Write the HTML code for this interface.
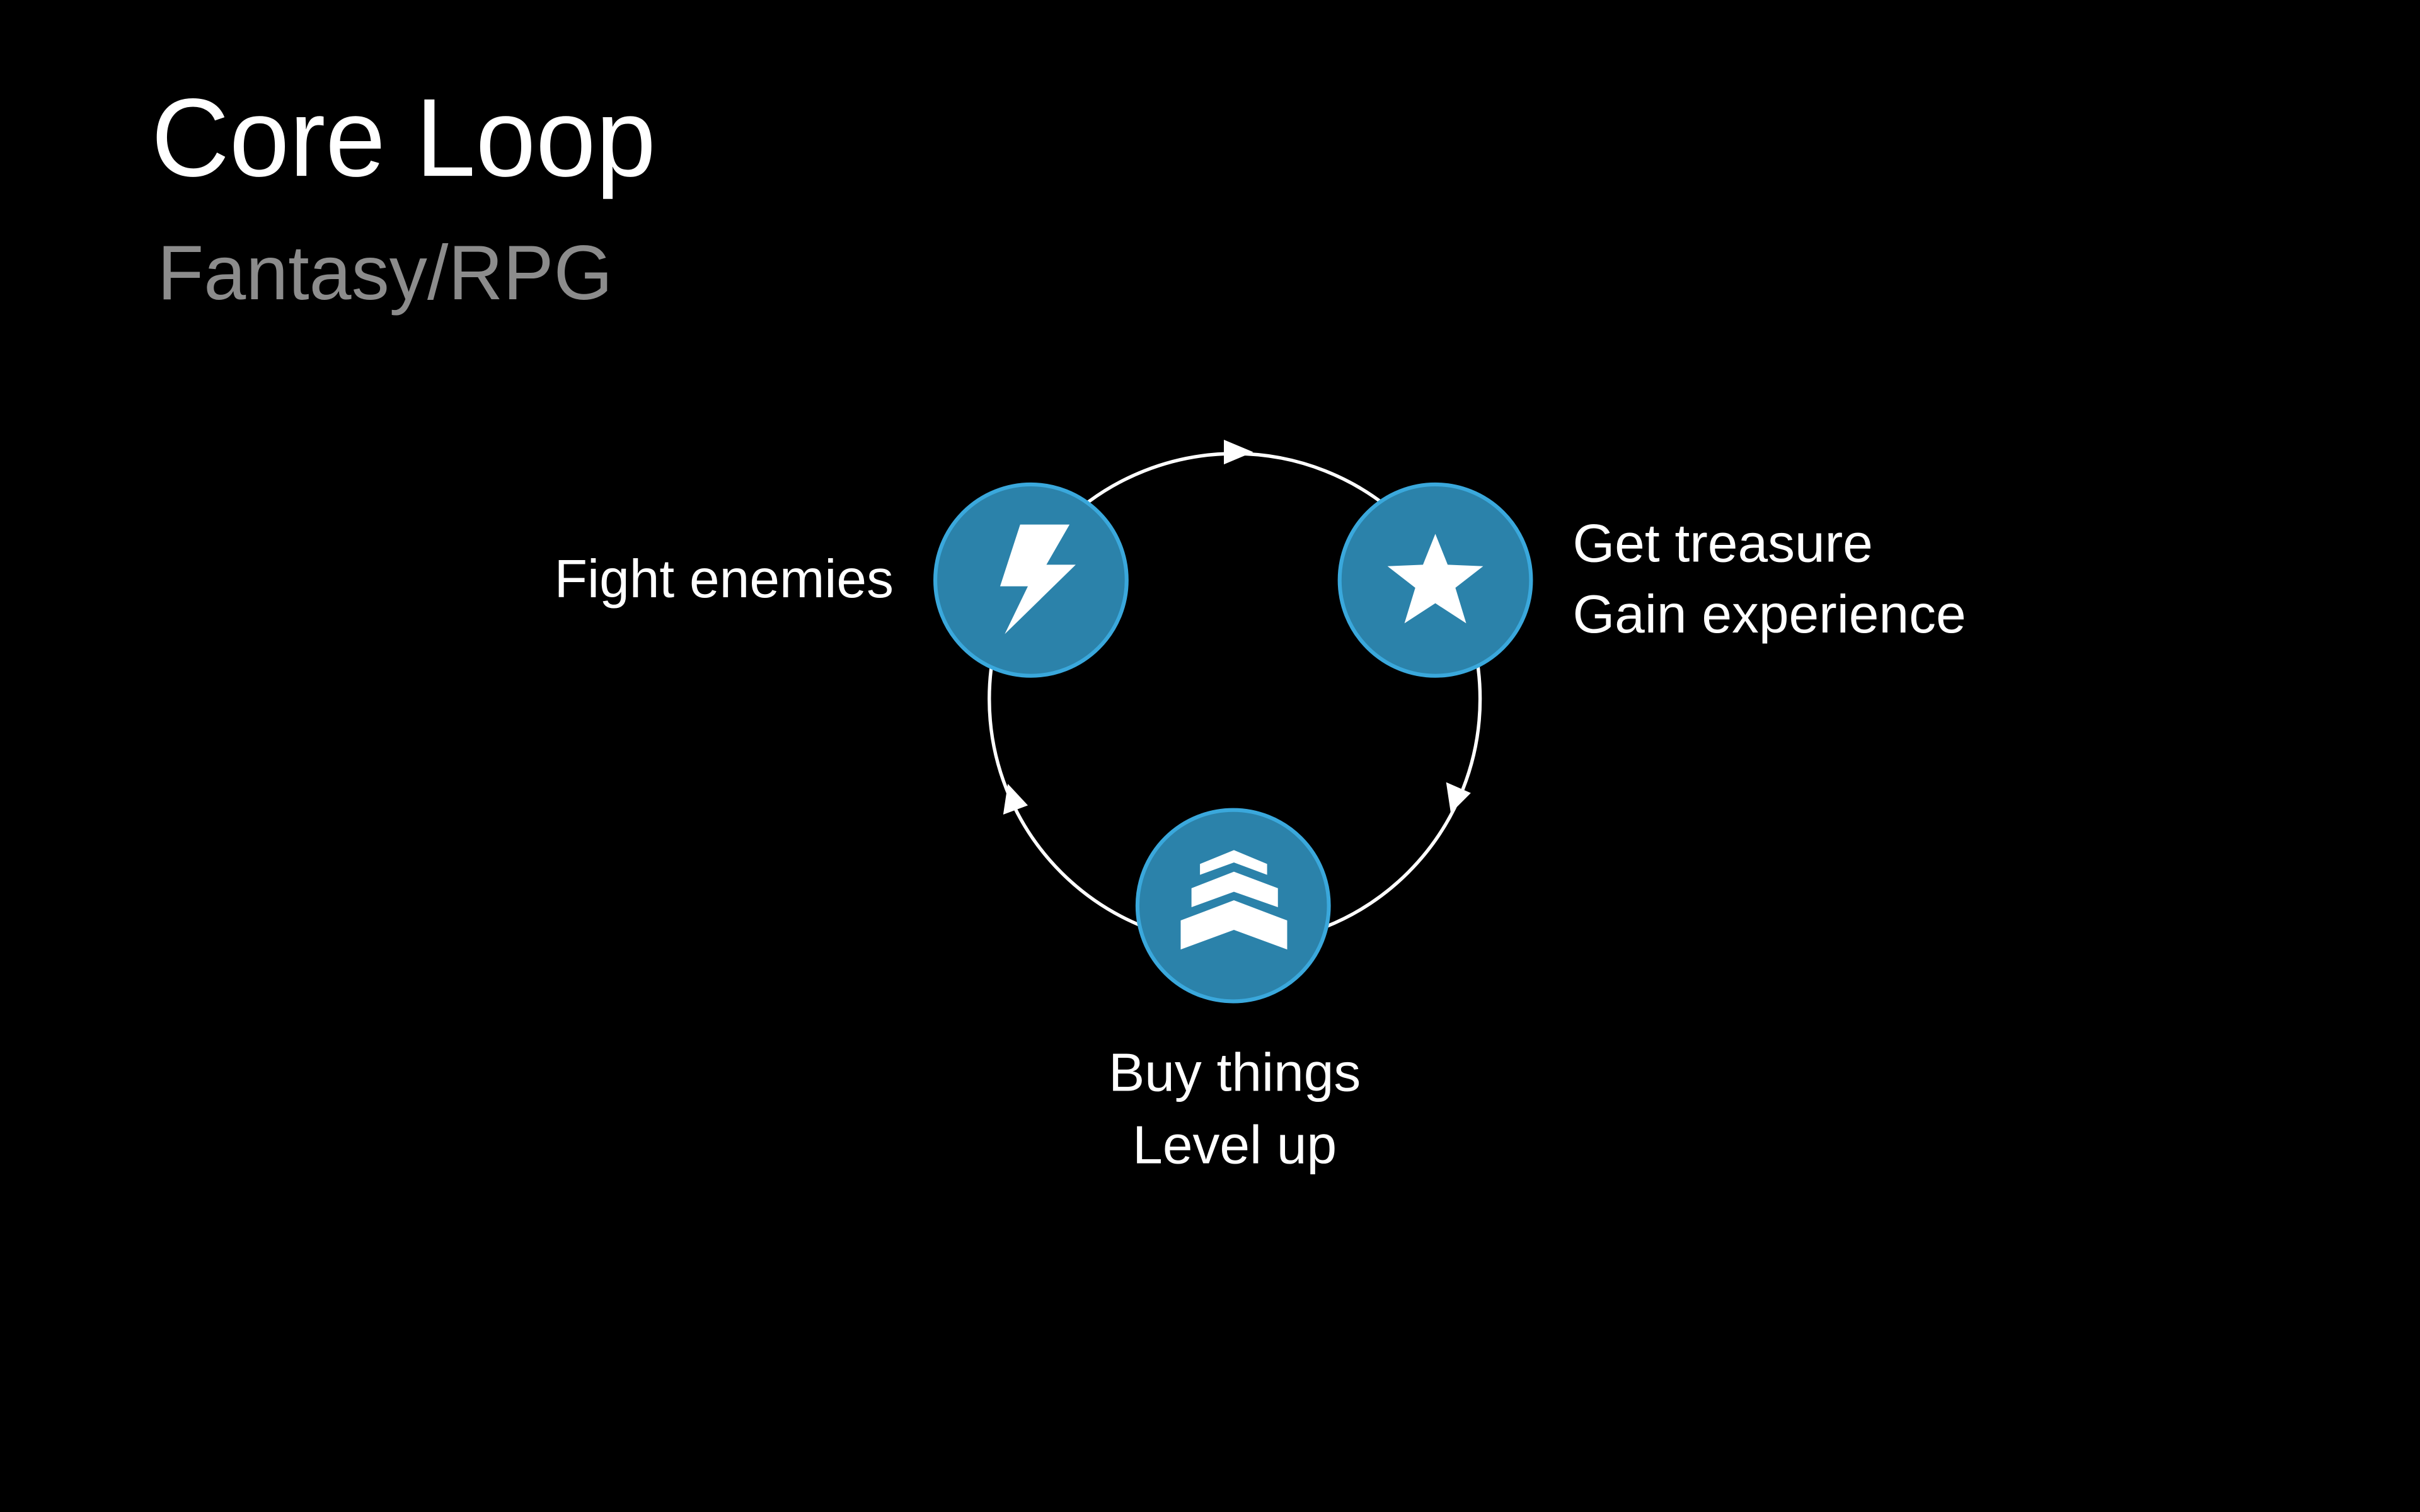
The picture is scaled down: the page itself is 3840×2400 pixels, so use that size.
<!DOCTYPE html>
<html><head><meta charset="utf-8"><style>
html,body{margin:0;padding:0;background:#000;width:3840px;height:2400px;overflow:hidden}
svg{display:block}
text{font-family:"Liberation Sans",sans-serif}
</style></head><body>
<svg width="3840" height="2400" viewBox="0 0 1568 980" xmlns="http://www.w3.org/2000/svg">
<rect width="1568" height="980" fill="#000"/>
<text x="98" y="114" font-size="72" fill="#fff" textLength="327" lengthAdjust="spacingAndGlyphs">Core Loop</text>
<text x="102" y="194" font-size="50" fill="#8c8c8c" textLength="295" lengthAdjust="spacingAndGlyphs">Fantasy/RPG</text>
<circle cx="800" cy="453" r="159" fill="none" stroke="#fff" stroke-width="2.2"/>
<polygon points="793,285 812,293 793,301" fill="#fff"/>
<polygon points="937,507 953,514 940,527" fill="#fff"/>
<polygon points="650,528 653,508 666,522" fill="#fff"/>
<g fill="#2b82aa" stroke="#3aa8dc" stroke-width="2.5">
<circle cx="668" cy="376" r="62"/>
<circle cx="930" cy="376" r="62"/>
<circle cx="799" cy="587" r="62"/>
</g>
<polygon points="661,340 693,340 678,366 697,366 651,411 666,380 648,380" fill="#fff"/>
<polygon points="930,346 938,366 961,367 943,381 950,404 930,391 910,404 917,381 899,367 922,366" fill="#fff"/>
<g fill="#fff">
<polygon points="777.5,560 799.5,551 821,560 821,567 799.5,559 777.5,567"/>
<polygon points="772,575.7 799.5,565 828,575.7 828,588 799.5,578 772,588"/>
<polygon points="765,596.6 799.5,583.5 834,596.6 834,615.4 799.5,602.7 765,615.4"/>
</g>
<g font-size="35" fill="#fff">
<text x="579" y="387" text-anchor="end">Fight enemies</text>
<text x="1019" y="364">Get treasure</text>
<text x="1019" y="410">Gain experience</text>
<text x="800" y="707" text-anchor="middle">Buy things</text>
<text x="800" y="754" text-anchor="middle">Level up</text>
</g>
</svg>
</body></html>
